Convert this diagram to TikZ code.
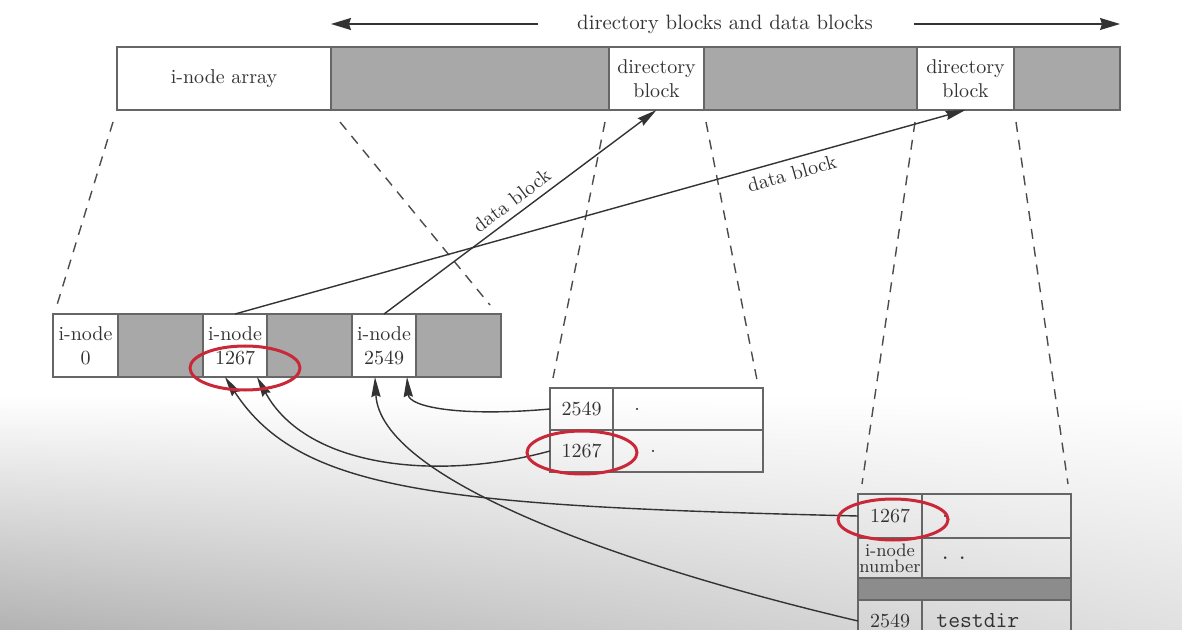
\documentclass[tikz,border=0pt]{standalone}
\usetikzlibrary{positioning,arrows.meta,calc,shadings}
\definecolor{ring}{RGB}{200,40,55}
\tikzset{
  blk/.style={draw=black!60, line width=0.8pt, minimum height=31.5pt, inner sep=0pt, outer sep=0pt, align=center, text=black!80},
  used/.style={blk, fill=black!34},
  cell/.style={blk, minimum height=21pt},
  txt/.style={inner sep=0pt, anchor=west, text=black!80},
  fold/.style={draw=black!70, line width=0.7pt, dash pattern=on 5pt off 4pt},
  ptr/.style={draw=black!80, line width=0.7pt, -{Stealth[length=10pt,width=4.6pt,inset=1pt]}},
  span/.style={draw=black!80, line width=0.7pt, -{Stealth[length=10pt,width=6pt,inset=1pt]}},
  hilite/.style={draw=ring, line width=1.5pt}
}
\begin{document}
\begin{tikzpicture}[x=0.5pt,y=-0.5pt,node distance=0pt]
  \useasboundingbox (0,0) rectangle (1182,630);
  \clip (0,0) rectangle (1182,630);
  % background of the screenshot
  \fill[white] (0,0) rectangle (1182,630);
  \shade[upper left=white, upper right=white, lower left=black!30, lower right=black!12] (0,395) rectangle (1182,630);

  % disk blocks
  \node[blk, minimum width=107pt, anchor=west] (iarr) at (117,78.5) {i-node array};
  \node[used, minimum width=139pt, right=of iarr] (dat1) {};
  \node[blk, minimum width=47.5pt, right=of dat1] (dir1) {directory\\block};
  \node[used, minimum width=106.5pt, right=of dir1] (dat2) {};
  \node[blk, minimum width=48.5pt, right=of dat2] (dir2) {directory\\block};
  \node[used, minimum width=53pt, right=of dir2] (dat3) {};
  \node[text=black!80, font=\fontsize{10.4}{12}\selectfont] (hdr) at (725,24) {directory blocks and data blocks};
  \draw[span] ([xshift=-16pt]hdr.west) -- (hdr.west -| iarr.east);
  \draw[span] ([xshift=17pt]hdr.east) -- (hdr.east -| dat3.east);

  % i-node array
  \node[blk, minimum width=32.5pt, anchor=west] (ino0) at (53,345.5) {i-node\\0};
  \node[used, minimum width=42.5pt, right=of ino0] (ig1) {};
  \node[blk, minimum width=32pt, right=of ig1] (ino1267) {i-node\\1267};
  \node[used, minimum width=42.5pt, right=of ino1267] (ig2) {};
  \node[blk, minimum width=32pt, right=of ig2] (ino2549) {i-node\\2549};
  \node[used, minimum width=42.5pt, right=of ino2549] (ig3) {};

  % first directory block
  \node[cell, minimum width=31.5pt, anchor=north west] (t1a) at (550,388) {2549};
  \node[cell, minimum width=75pt, right=of t1a] (t1an) {};
  \node[cell, minimum width=31.5pt, below=of t1a] (t1b) {1267};
  \node[cell, minimum width=75pt, right=of t1b] (t1bn) {};
  \node[txt, right=10.5pt of t1a.east] (t1adot) {.};
  \node[txt, right=18.5pt of t1b.east] (t1bdot) {.};

  % second directory block
  \node[cell, minimum width=32pt, minimum height=22pt, anchor=north west] (t2a) at (858,494) {1267};
  \node[cell, minimum width=74.5pt, minimum height=22pt, right=of t2a] (t2an) {};
  \node[cell, minimum width=32pt, minimum height=20pt, below=of t2a, font=\fontsize{9}{8}\selectfont] (t2b) {i-node\\number};
  \node[cell, minimum width=74.5pt, minimum height=20pt, right=of t2b] (t2bn) {};
  \node[cell, fill=black!45, minimum width=106.5pt, minimum height=11pt, below=of t2b.south west, anchor=north west] (t2c) {};
  \node[cell, minimum width=32pt, below=of t2c.south west, anchor=north west] (t2d) {2549};
  \node[cell, minimum width=74.5pt, right=of t2d] (t2dn) {};
  \node[txt, right=10pt of t2a.east] (t2adot) {.};
  \node[txt, right=8.5pt of t2b.east, font=\fontsize{11.5}{13}\selectfont\ttfamily] (t2bdot) {.\hspace{2.5pt}.};
  \node[txt, right=7pt of t2d.east, font=\fontsize{11.5}{13}\selectfont\ttfamily] (t2dname) {testdir};

  % expansion lines
  \draw[fold] ([shift={(-4,12)}]iarr.south west) -- ([shift={(4,-9)}]ino0.north west);
  \draw[fold] ([shift={(9,12)}]dat1.south west) -- ([shift={(-11,-9)}]ig3.north east);
  \draw[fold] ([shift={(-4,12)}]dir1.south west) -- ([shift={(3,-10)}]t1a.north west);
  \draw[fold] ([shift={(2,12)}]dir1.south east) -- ([shift={(-6,-8)}]t1an.north east);
  \draw[fold] ([shift={(-2,12)}]dir2.south west) -- ([shift={(4,-10)}]t2a.north west);
  \draw[fold] ([shift={(2,12)}]dir2.south east) -- ([shift={(-3,-10)}]t2an.north east);

  % data block pointers
  \draw[ptr] (ino2549.north) -- node[sloped, above, text=black!80] (lbl1) {data block} (dir1.south);
  \draw[ptr] (ino1267.north) -- node[sloped, below, pos=0.757, text=black!80] (lbl2) {data block} (dir2.south);

  % directory entries back to i-nodes
  \draw[ptr] (t1a.west) .. controls +(-90,8) and +(2,30) .. ([xshift=-4.5pt]ino2549.south east);
  \draw[ptr] (t1b.west) .. controls +(-110,30) and +(50,92) .. ([xshift=-5pt]ino1267.south east);
  \draw[ptr] (t2a.west) .. controls +(-418,-10) and +(75,115) .. ([xshift=11pt]ino1267.south west);
  \draw[ptr] (t2d.west) .. controls +(-238,-56) and +(5,102) .. ([xshift=11.5pt]ino2549.south west);

  % red rings
  \draw[hilite] ([shift={(10,22.5)}]ino1267.center) ellipse [x radius=27.5pt, y radius=11pt];
  \draw[hilite] ([shift={(0.5,1.5)}]t1b.center) ellipse [x radius=27.5pt, y radius=10.75pt];
  \draw[hilite] ([shift={(3,3.5)}]t2a.center) ellipse [x radius=27.5pt, y radius=10.25pt];
\end{tikzpicture}
\end{document}
